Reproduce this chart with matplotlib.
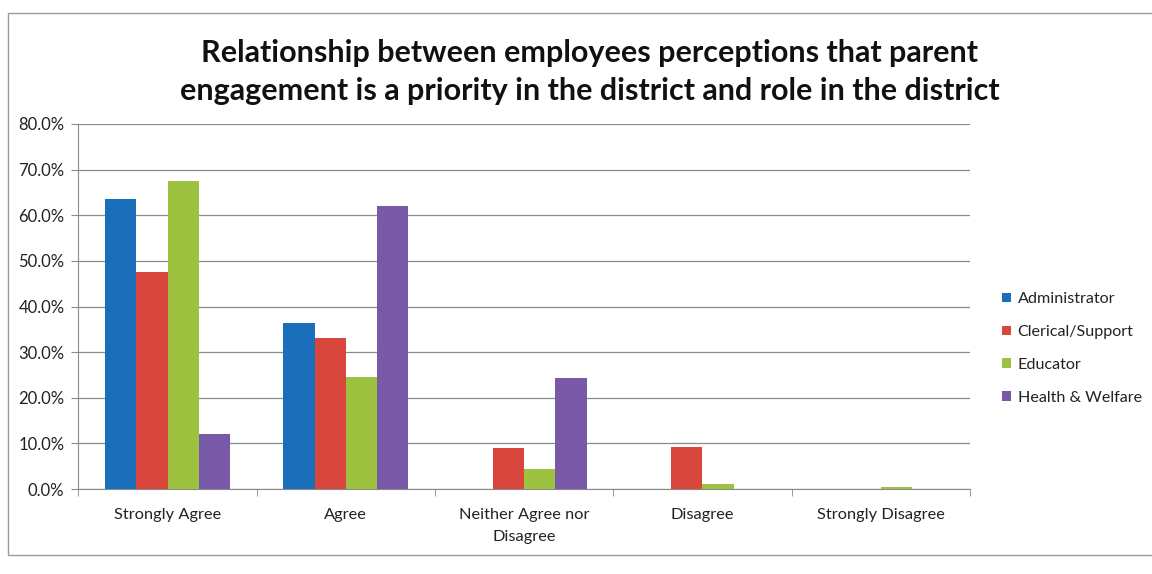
import numpy as np
import matplotlib
matplotlib.use("Agg")
import matplotlib.pyplot as plt
from matplotlib.ticker import PercentFormatter, FixedLocator
from matplotlib.patches import Rectangle

categories = ["Strongly Agree", "Agree", "Neither Agree nor\nDisagree", "Disagree", "Strongly Disagree"]
series_names = ["Administrator", "Clerical/Support", "Educator", "Health & Welfare"]
administrator = [0.636, 0.364, 0.0, 0.0, 0.0]
clerical_support = [0.476, 0.330, 0.090, 0.092, 0.0]
educator = [0.674, 0.245, 0.043, 0.011, 0.004]
health_welfare = [0.121, 0.620, 0.243, 0.0, 0.0]
series_values = [administrator, clerical_support, educator, health_welfare]
colors = ["#1b6fba", "#d9463b", "#9cc23f", "#7759a8"]

plt.rcParams["font.family"] = ["Lato", "DejaVu Sans"]

fig = plt.figure(figsize=(11.52, 5.74), dpi=100)
fig.patch.set_facecolor("white")
ax = fig.add_axes([0.068, 0.148, 0.774, 0.636])

x = np.arange(len(categories))
bar_w = 0.175
for i, (name, vals, col) in enumerate(zip(series_names, series_values, colors)):
    offs = (i - 1.5) * bar_w
    ax.bar(x + offs, vals, width=bar_w, color=col, label=name, zorder=3)

ax.set_xlim(-0.5, len(categories) - 0.5)
ax.set_ylim(0, 0.8)
ax.set_yticks(np.arange(0, 0.81, 0.1))
ax.yaxis.set_major_formatter(PercentFormatter(xmax=1, decimals=1))
ax.grid(axis="y", color="#8a8a8a", linewidth=0.9, zorder=0)

ax.set_xticks(x)
ax.set_xticklabels(categories, fontsize=11.8, color="#222222", linespacing=1.65)
ax.xaxis.set_minor_locator(FixedLocator(np.arange(-0.5, len(categories), 1.0)))
ax.tick_params(axis="x", which="major", length=0, pad=14)
ax.tick_params(axis="x", which="minor", length=5, color="#8a8a8a", direction="out")
ax.tick_params(axis="y", length=5, color="#8a8a8a", labelsize=12, labelcolor="#222222", pad=5)

for side in ["top", "right"]:
    ax.spines[side].set_visible(False)
ax.spines["left"].set_color("#8a8a8a")
ax.spines["bottom"].set_color("#8a8a8a")

leg = ax.legend(loc="center left", bbox_to_anchor=(1.02, 0.385), frameon=False,
                fontsize=11.6, handlelength=0.55, handleheight=0.55, handletextpad=0.4,
                labelspacing=1.17)
for t in leg.get_texts():
    t.set_color("#222222")

fig.text(0.512, 0.874,
         "Relationship between employees perceptions that parent\n"
         "engagement is a priority in the district and role in the district",
         ha="center", va="center", fontsize=22, fontweight="bold",
         color="#111111", linespacing=1.45)

fig.patches.append(Rectangle((0.007, 0.033), 1.0, 0.945, transform=fig.transFigure,
                             fill=False, edgecolor="#9a9a9a", linewidth=1.0))

fig.savefig("out.png", dpi=100, facecolor="white")
